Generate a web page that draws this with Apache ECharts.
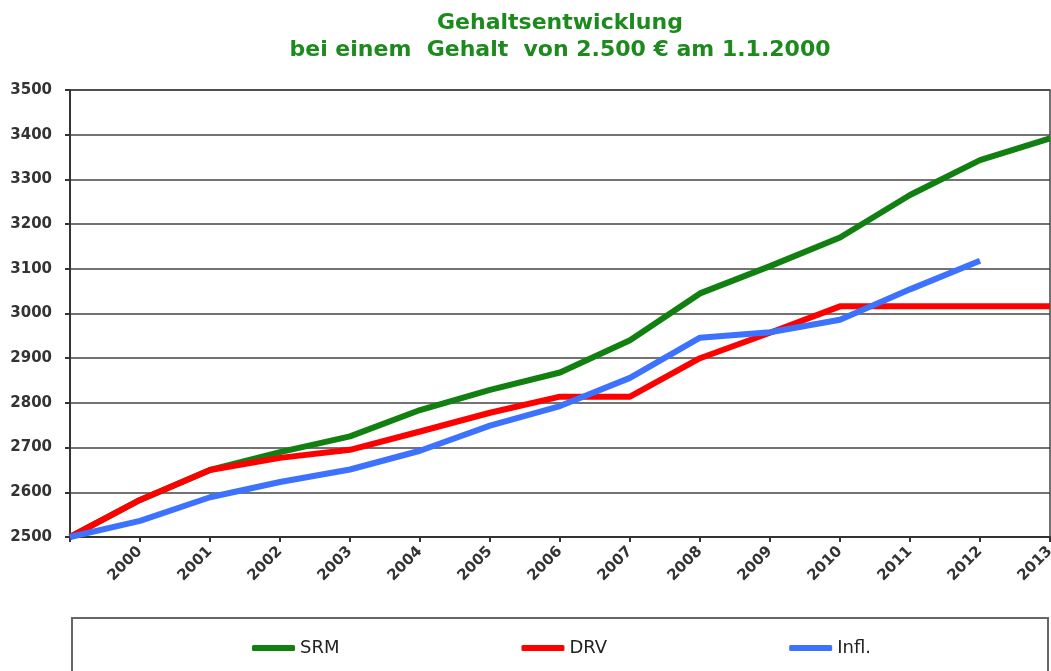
<!DOCTYPE html>
<html>
<head>
<meta charset="utf-8">
<script src="https://cdn.jsdelivr.net/npm/echarts@6/dist/echarts.min.js"></script>
<style>
  html, body { margin: 0; padding: 0; background: #fff; }
  #chart { width: 1051px; height: 671px; }
</style>
</head>
<body>
<div id="chart"></div>
<script>
// first point = start value on 1.1.2000 (no label)
var years = ["", "2000", "2001", "2002", "2003", "2004", "2005", "2006", "2007", "2008", "2009", "2010", "2011", "2012", "2013"];
var srm = [2500, 2583, 2650, 2690, 2725, 2784, 2829, 2868, 2940, 3045, 3106, 3170, 3265, 3343, 3392];
var drv = [2500, 2583, 2650, 2677, 2695, 2736, 2778, 2814, 2814, 2900, 2957, 3016, 3016, 3016, 3016];
var infl = [2500, 2536, 2589, 2623, 2651, 2693, 2749, 2793, 2856, 2946, 2958, 2986, 3054, 3118, null];

var chart = echarts.init(document.getElementById("chart"));

var labelFont = "DejaVu Sans";

var option = {
  animation: false,
  title: {
    text: "Gehaltsentwicklung\nbei einem  Gehalt  von 2.500 € am 1.1.2000",
    left: 555,
    top: 5,
    textAlign: "center",
    textStyle: {
      color: "#1c8a1c",
      fontFamily: labelFont,
      fontWeight: "bold",
      fontSize: 22,
      lineHeight: 27
    }
  },
  legend: {
    data: ["SRM", "DRV", "Infl."],
    left: 252,
    top: 639,
    padding: 0,
    icon: "roundRect",
    itemWidth: 43,
    itemHeight: 6,
    itemGap: 182,
    textStyle: {
      color: "#222",
      fontFamily: labelFont,
      fontSize: 18
    }
  },
  // legend frame
  graphic: [
    {
      type: "rect",
      shape: { x: 72, y: 618, width: 976, height: 70 },
      style: { fill: "none", stroke: "#666", lineWidth: 2 }
    }
  ],
  grid: {
    left: 70,
    right: 1,
    top: 90,
    bottom: 134,
    outerBoundsMode: "none",
    show: true,
    borderColor: "#444",
    borderWidth: 1.5
  },
  xAxis: {
    type: "category",
    boundaryGap: false,
    data: years,
    axisLine: { lineStyle: { color: "#333", width: 2 } },
    axisTick: { show: true, length: 5, lineStyle: { color: "#333", width: 2 } },
    axisLabel: {
      rotate: 45,
      interval: 0,
      margin: 12,
      color: "#333",
      fontFamily: labelFont,
      fontWeight: "bold",
      fontSize: 15
    },
    splitLine: { show: false }
  },
  yAxis: {
    type: "value",
    min: 2500,
    max: 3500,
    interval: 100,
    axisLine: { show: true, lineStyle: { color: "#333", width: 2 } },
    axisTick: { show: true, length: 5, lineStyle: { color: "#333", width: 2 } },
    axisLabel: {
      color: "#333",
      fontFamily: labelFont,
      fontWeight: "bold",
      fontSize: 15,
      margin: 18,
      formatter: function (v) { return String(v); }
    },
    splitLine: { lineStyle: { color: "#444", width: 1.5 } }
  },
  series: [
    {
      name: "SRM",
      type: "line",
      data: srm,
      symbol: "none",
      color: "#118011",
      lineStyle: { width: 6, color: "#118011" }
    },
    {
      name: "DRV",
      type: "line",
      data: drv,
      symbol: "none",
      color: "#ff0000",
      lineStyle: { width: 6, color: "#ff0000" }
    },
    {
      name: "Infl.",
      type: "line",
      data: infl,
      symbol: "none",
      color: "#3d72ff",
      lineStyle: { width: 6, color: "#3d72ff" }
    }
  ]
};

chart.setOption(option);
</script>
</body>
</html>
